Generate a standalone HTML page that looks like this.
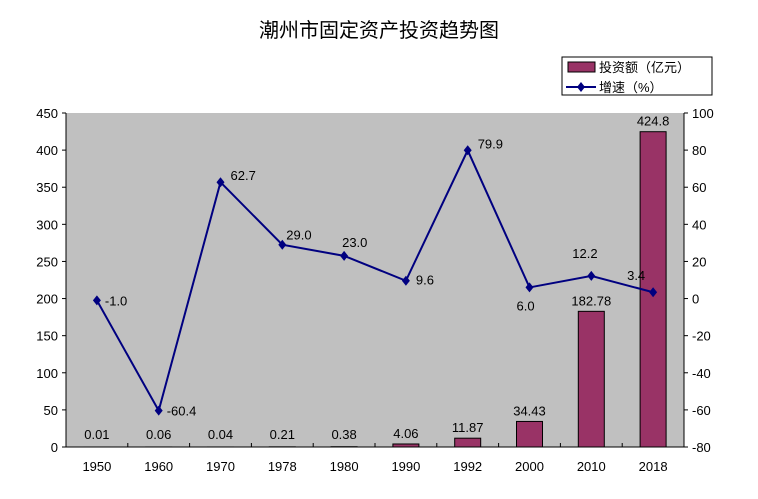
<!DOCTYPE html>
<html><head><meta charset="utf-8"><style>
body{margin:0;background:#fff;}
svg text{font-family:"Liberation Sans","Noto Sans CJK SC",sans-serif;}
</style></head><body>
<svg id="c" width="758" height="494" xmlns="http://www.w3.org/2000/svg">
<text x="379" y="37" font-size="20" text-anchor="middle">潮州市固定资产投资趋势图</text>
<rect x="66" y="113" width="618" height="334" fill="#c0c0c0"/>
<g id="g"></g>
<g>
<rect x="562" y="57" width="150" height="38" fill="#fff" stroke="#000"/>
<rect x="568" y="62" width="27" height="10" fill="#993366" stroke="#000"/>
<text x="599" y="72" font-size="13">投资额（亿元）</text>
<line x1="566" y1="87" x2="596" y2="87" stroke="#000080" stroke-width="2"/>
<path d="M581 82 L585 87 L581 92 L577 87Z" fill="#000080"/>
<text x="599" y="92" font-size="13">增速（%）</text>
</g>
</svg>
<script>
const categories=["1950","1960","1970","1978","1980","1990","1992","2000","2010","2018"];
const investment=[0.01,0.06,0.04,0.21,0.38,4.06,11.87,34.43,182.78,424.8];
const investLabels=["0.01","0.06","0.04","0.21","0.38","4.06","11.87","34.43","182.78","424.8"];
const growth=[-1.0,-60.4,62.7,29.0,23.0,9.6,79.9,6.0,12.2,3.4];
const growthLabels=["-1.0","-60.4","62.7","29.0","23.0","9.6","79.9","6.0","12.2","3.4"];
const leftTicks=[0,50,100,150,200,250,300,350,400,450];
const rightTicks=[-80,-60,-40,-20,0,20,40,60,80,100];
const L=66,R=684,T=113,B=447;
const yL=v=>B-(v/450)*(B-T);
const yR=v=>B-((v+80)/180)*(B-T);
const bw=(R-L)/categories.length;
const xC=i=>L+bw*(i+0.5);
const g=document.getElementById('g');
const NS="http://www.w3.org/2000/svg";
function mk(t,a,p){const e=document.createElementNS(NS,t);for(const k in a)e.setAttribute(k,a[k]);(p||g).appendChild(e);return e;}
leftTicks.forEach(v=>{const t=mk('text',{x:L-8,y:yL(v)+5,'font-size':13,'text-anchor':'end'});t.textContent=v;


mk('line',{x1:L-4,x2:L,y1:yL(v),y2:yL(v),stroke:'#000'});});
rightTicks.forEach(v=>{const t=mk('text',{x:R+8,y:yR(v)+5,'font-size':13});t.textContent=v;


mk('line',{x1:R,x2:R+4,y1:yR(v),y2:yR(v),stroke:'#000'});});
mk('line',{x1:L,x2:L,y1:T,y2:B,stroke:'#000'});
mk('line',{x1:R,x2:R,y1:T,y2:B,stroke:'#000'});
mk('line',{x1:L,x2:R,y1:B,y2:B,stroke:'#000'});
categories.forEach((c,i)=>{
 mk('line',{x1:L+bw*i,x2:L+bw*i,y1:B,y2:B-4,stroke:'#000'});
 const t=mk('text',{x:xC(i),y:B+24,'font-size':13,'text-anchor':'middle'});t.textContent=c;
 
 
 const y=yL(investment[i]);
 const r=mk('rect',{x:xC(i)-13,y:y,width:26,height:B-y,fill:'#993366',stroke:'#000','stroke-width':1});
 
 
 const lb=mk('text',{x:xC(i),y:Math.min(y-6,B-8),'font-size':13,'text-anchor':'middle'});lb.textContent=investLabels[i];
 
 
});
const pts=growth.map((v,i)=>xC(i)+','+yR(v)).join(' ');
const pl=mk('polyline',{points:pts,fill:'none',stroke:'#000080','stroke-width':2});


const off=[[8,5],[8,5],[10,-2],[4,-5],[-2,-9],[10,4],[10,-2],[-13,23],[-19,-18],[-26,-12]];
growth.forEach((v,i)=>{
 const x=xC(i),y=yR(v);
 const p=mk('path',{d:`M${x} ${y-5}L${x+4} ${y}L${x} ${y+5}L${x-4} ${y}Z`,fill:'#000080'});
 
 
 const t=mk('text',{x:x+off[i][0],y:y+off[i][1],'font-size':13});t.textContent=growthLabels[i];
 
 
});
</script>
</body></html>
